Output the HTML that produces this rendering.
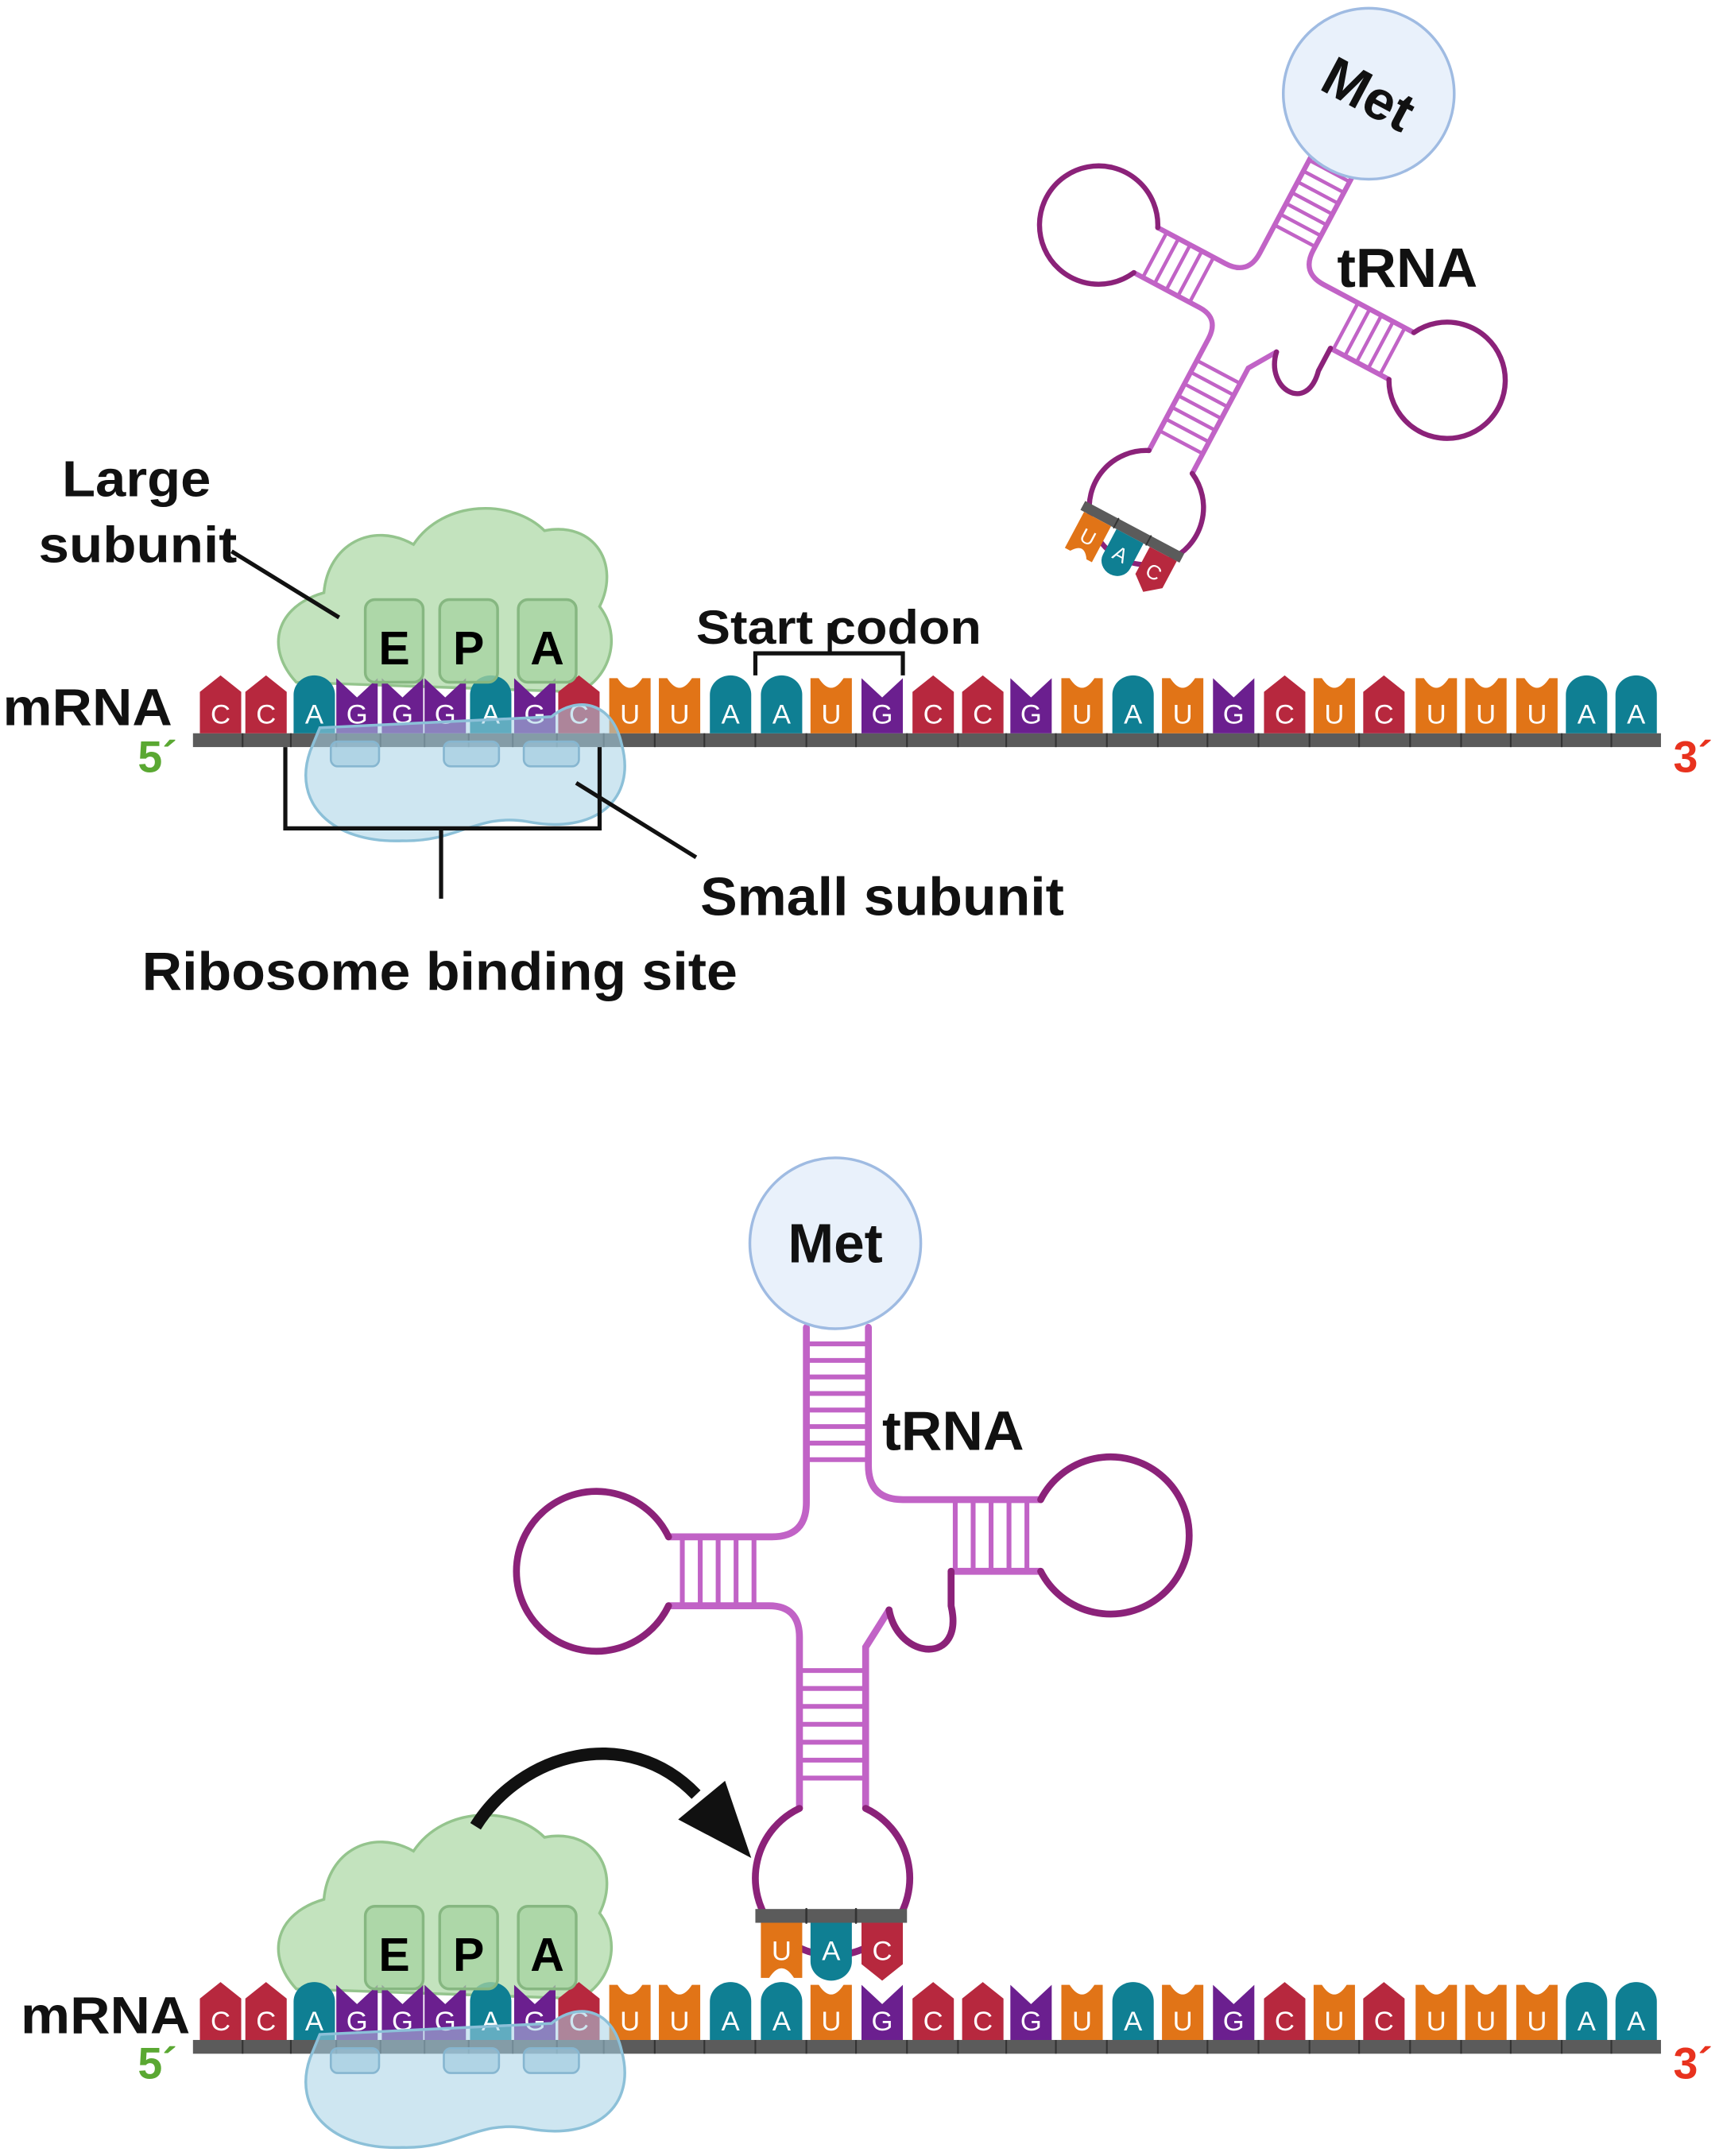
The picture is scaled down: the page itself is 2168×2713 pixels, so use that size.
<!DOCTYPE html>
<html><head><meta charset="utf-8"><style>
html,body{margin:0;padding:0;background:#fff}
svg{display:block}
text{font-family:"Liberation Sans",Arial,sans-serif}
</style></head><body>
<svg width="2168" height="2713" viewBox="0 0 1250 1564.2" preserveAspectRatio="none" xmlns="http://www.w3.org/2000/svg">
<defs>
<path id="nC" d="M-15,42 L-15,12 L0,0 L15,12 L15,42Z" fill="#b7283e"/>
<path id="nA" d="M-15,42 L-15,14 A15,14 0 0 1 15,14 L15,42Z" fill="#0f7f93"/>
<path id="nG" d="M-15,42 L-15,2 L0,16 L15,2 L15,42Z" fill="#6b1f8f"/>
<path id="nU" d="M-15,42 L-15,2 L-9,2 Q0,16 9,2 L15,2 L15,42Z" fill="#e17417"/>
<g id="trna" fill="none" stroke-linecap="round">
  <g stroke="#c163c6" stroke-width="5">
    <path d="M585,963 L585,1090 Q585,1115 560,1115 L485,1115"/>
    <path d="M485,1165 L558,1165 Q580,1165 580,1188 L580,1312"/>
    <path d="M628,1312 L628,1195 L645,1168"/>
    <path d="M690,1140 L755,1140"/>
    <path d="M755,1088 L655,1088 Q630,1088 630,1063 L630,963"/>
    <g stroke-width="3.5">
      <path d="M585,975H630M585,987H630M585,999H630M585,1011H630M585,1023H630M585,1035H630M585,1047H630M585,1059H630"/>
      <path d="M495,1115V1165M508,1115V1165M521,1115V1165M534,1115V1165M547,1115V1165"/>
      <path d="M580,1212H628M580,1225H628M580,1238H628M580,1251H628M580,1264H628M580,1277H628M580,1290H628"/>
      <path d="M693,1088V1140M706,1088V1140M719,1088V1140M732,1088V1140M745,1088V1140"/>
    </g>
  </g>
  <g stroke="#8b2279" stroke-width="5">
    <path d="M485,1115 A58,58 0 1 0 485,1165"/>
    <path d="M580,1312 A56,56 0 1 0 628,1312"/>
    <path d="M755,1140 A57,57 0 1 0 755,1088"/>
    <path d="M645,1168 C652,1205 700,1208 690,1165 L690,1140"/>
  </g>
  <rect x="548" y="1385" width="110" height="10" fill="#5b5b5b"/>
  <path d="M585,1385V1395M621,1385V1395" stroke="#333" stroke-width="1.5"/>
  <g transform="translate(567,1437) scale(1,-1)"><use href="#nU"/></g>
  <g transform="translate(603,1437) scale(1,-1)"><use href="#nA"/></g>
  <g transform="translate(640,1437) scale(1,-1)"><use href="#nC"/></g>
  <g font-size="20" fill="#fff" text-anchor="middle" stroke="none">
    <text x="567" y="1422">U</text><text x="603" y="1422">A</text><text x="640" y="1422">C</text>
  </g>
</g>
<g id="large">
  <path d="M215,495 C192,470 200,440 235,430 C238,395 270,378 300,395 C322,362 372,362 395,385 C432,378 450,410 435,440 C452,462 442,492 420,502 Z" fill="#b9deb3" fill-opacity="0.85" stroke="#94c48d" stroke-width="2"/>
</g>
<g id="epa">
  <rect x="265" y="435" width="42" height="60" rx="7" fill="#a6d3a0" fill-opacity="0.75" stroke="#86b781" stroke-width="2"/>
  <rect x="319" y="435" width="42" height="60" rx="7" fill="#a6d3a0" fill-opacity="0.75" stroke="#86b781" stroke-width="2"/>
  <rect x="376" y="435" width="42" height="60" rx="7" fill="#a6d3a0" fill-opacity="0.75" stroke="#86b781" stroke-width="2"/>
  <g font-size="34" font-weight="bold" fill="#000" text-anchor="middle">
    <text x="286" y="482">E</text><text x="340" y="482">P</text><text x="397" y="482">A</text>
  </g>
</g>
<g id="small">
  <path d="M225,545 C212,582 240,612 292,610 C332,611 346,590 382,596 C432,606 462,580 451,540 C444,508 418,505 400,520 L232,528 Z" fill="#a6d2e6" fill-opacity="0.55" stroke="#8cc0d8" stroke-width="2"/>
  <rect x="240" y="538" width="35" height="18" rx="5" fill="#9cc8de" fill-opacity="0.6" stroke="#86b6d0" stroke-width="1.5"/>
  <rect x="322" y="538" width="40" height="18" rx="5" fill="#9cc8de" fill-opacity="0.6" stroke="#86b6d0" stroke-width="1.5"/>
  <rect x="380" y="538" width="40" height="18" rx="5" fill="#9cc8de" fill-opacity="0.6" stroke="#86b6d0" stroke-width="1.5"/>
</g>
<g id="mrna">
  <rect x="140" y="532" width="1065" height="10" fill="#5b5b5b"/>
  <path d="M176,532V542M211,532V542M244,532V542M276,532V542M308,532V542M340,532V542M372,532V542M404,532V542M438,532V542M475,532V542M511,532V542M548,532V542M585,532V542M621,532V542M658,532V542M695,532V542M730,532V542M766,532V542M803,532V542M840,532V542M876,532V542M913,532V542M950,532V542M986,532V542M1023,532V542M1060,532V542M1096,532V542M1133,532V542M1169,532V542" stroke="#333" stroke-width="1.2"/>
  <g transform="translate(0,490)">
    <use href="#nC" x="160"/><use href="#nC" x="193"/><use href="#nA" x="228"/><use href="#nG" x="259"/><use href="#nG" x="292"/><use href="#nG" x="323"/><use href="#nA" x="356"/><use href="#nG" x="388"/><use href="#nC" x="420"/>
    <use href="#nU" x="457"/><use href="#nU" x="493"/><use href="#nA" x="530"/><use href="#nA" x="567"/><use href="#nU" x="603"/><use href="#nG" x="640"/><use href="#nC" x="677"/><use href="#nC" x="713"/><use href="#nG" x="748"/><use href="#nU" x="785"/><use href="#nA" x="822"/><use href="#nU" x="858"/><use href="#nG" x="895"/><use href="#nC" x="932"/><use href="#nU" x="968"/><use href="#nC" x="1004"/><use href="#nU" x="1042"/><use href="#nU" x="1078"/><use href="#nU" x="1115"/><use href="#nA" x="1151"/><use href="#nA" x="1187"/>
  </g>
  <g font-size="20" fill="#fff" text-anchor="middle">
    <text x="160" y="525">C</text><text x="193" y="525">C</text><text x="228" y="525">A</text><text x="259" y="525">G</text><text x="292" y="525">G</text><text x="323" y="525">G</text><text x="356" y="525">A</text><text x="388" y="525">G</text><text x="420" y="525">C</text>
    <text x="457" y="525">U</text><text x="493" y="525">U</text><text x="530" y="525">A</text><text x="567" y="525">A</text><text x="603" y="525">U</text><text x="640" y="525">G</text><text x="677" y="525">C</text><text x="713" y="525">C</text><text x="748" y="525">G</text><text x="785" y="525">U</text><text x="822" y="525">A</text><text x="858" y="525">U</text><text x="895" y="525">G</text><text x="932" y="525">C</text><text x="968" y="525">U</text><text x="1004" y="525">C</text><text x="1042" y="525">U</text><text x="1078" y="525">U</text><text x="1115" y="525">U</text><text x="1151" y="525">A</text><text x="1187" y="525">A</text>
  </g>
</g>
</defs>

<use href="#large"/>
<use href="#mrna"/>
<use href="#epa"/>
<use href="#small"/>

<g font-weight="bold" fill="#111">
  <text x="45" y="360" font-size="37" textLength="108" lengthAdjust="spacingAndGlyphs">Large</text>
  <text x="28" y="408" font-size="37" textLength="144" lengthAdjust="spacingAndGlyphs">subunit</text>
  <text x="2" y="526" font-size="38" textLength="123" lengthAdjust="spacingAndGlyphs">mRNA</text>
  <text x="505" y="467" font-size="35" textLength="207" lengthAdjust="spacingAndGlyphs">Start codon</text>
  <text x="508" y="664" font-size="39" textLength="264" lengthAdjust="spacingAndGlyphs">Small subunit</text>
  <text x="103" y="718" font-size="39" textLength="432" lengthAdjust="spacingAndGlyphs">Ribosome binding site</text>
  <text x="970" y="208" font-size="40" textLength="102" lengthAdjust="spacingAndGlyphs">tRNA</text>
</g>
<text x="100" y="560" font-size="32" font-weight="bold" fill="#5aa832">5´</text>
<text x="1214" y="560" font-size="32" font-weight="bold" fill="#e8321e">3´</text>
<g stroke="#111" stroke-width="3" fill="none">
  <path d="M168,400 L246,448"/>
  <path d="M548,490 V474 H655 V490 M602,474 V452"/>
  <path d="M207,542 V601 H435 V542 M320,601 V652"/>
  <path d="M418,568 L505,622"/>
</g>

<use href="#trna" transform="translate(993,68) rotate(28) scale(0.74) translate(-606,-902)"/>
<circle cx="993" cy="68" r="62" fill="#e9f1fb" stroke="#9fbbe2" stroke-width="2"/>
<text x="993" y="82" font-size="40" font-weight="bold" text-anchor="middle" fill="#111" transform="rotate(28 993 68)">Met</text>

<g transform="translate(0,948)"><use href="#large"/></g>
<g transform="translate(0,948)"><use href="#mrna"/></g>
<g transform="translate(0,948)"><use href="#epa"/></g>
<g transform="translate(0,948)"><use href="#small"/></g>
<use href="#trna"/>
<circle cx="606" cy="902" r="62" fill="#e9f1fb" stroke="#9fbbe2" stroke-width="2"/>
<text x="606" y="916" font-size="40" font-weight="bold" text-anchor="middle" fill="#111">Met</text>
<g font-weight="bold" fill="#111">
  <text x="640" y="1052" font-size="40" textLength="103" lengthAdjust="spacingAndGlyphs">tRNA</text>
  <text x="15" y="1475" font-size="38" textLength="123" lengthAdjust="spacingAndGlyphs">mRNA</text>
</g>
<text x="100" y="1508" font-size="32" font-weight="bold" fill="#5aa832">5´</text>
<text x="1214" y="1508" font-size="32" font-weight="bold" fill="#e8321e">3´</text>
<path d="M345,1325 C378,1272 455,1250 505,1302" stroke="#111" stroke-width="9" fill="none"/>
<polygon points="492,1320 526,1292 545,1348" fill="#111"/>
</svg>
</body></html>
